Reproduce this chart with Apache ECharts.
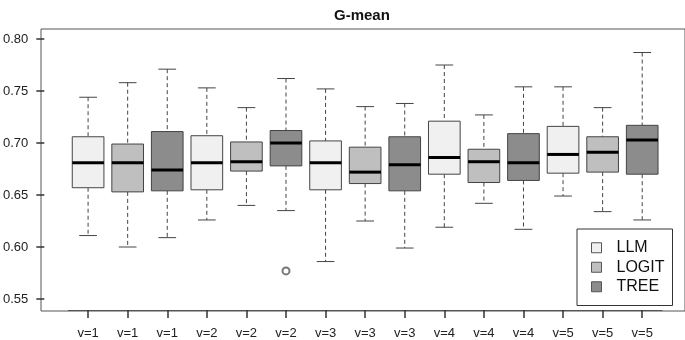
<!DOCTYPE html>
<html>
<head>
<meta charset="utf-8">
<script src="https://cdn.jsdelivr.net/npm/echarts@6/dist/echarts.min.js"></script>
<style>
  html, body { margin: 0; padding: 0; background: #fff; }
  #chart { width: 685px; height: 340px; }
</style>
</head>
<body>
<div id="chart"></div>
<script>
// categorie e gruppi (3 modelli per ogni valore di v)
const categories = ['v=1', 'v=1', 'v=1', 'v=2', 'v=2', 'v=2', 'v=3', 'v=3', 'v=3',
  'v=4', 'v=4', 'v=4', 'v=5', 'v=5', 'v=5'];
const groups = ['LLM', 'LOGIT', 'TREE', 'LLM', 'LOGIT', 'TREE', 'LLM', 'LOGIT', 'TREE',
  'LLM', 'LOGIT', 'TREE', 'LLM', 'LOGIT', 'TREE'];

// statistiche dei box
const whiskerLow  = [0.611, 0.600, 0.609, 0.626, 0.640, 0.635, 0.586, 0.625, 0.599, 0.619, 0.642, 0.617, 0.649, 0.634, 0.626];
const q1          = [0.657, 0.653, 0.654, 0.655, 0.673, 0.678, 0.655, 0.661, 0.654, 0.670, 0.662, 0.664, 0.671, 0.672, 0.670];
const medians     = [0.681, 0.681, 0.674, 0.681, 0.682, 0.700, 0.681, 0.672, 0.679, 0.686, 0.682, 0.681, 0.689, 0.691, 0.703];
const q3          = [0.706, 0.699, 0.711, 0.707, 0.701, 0.712, 0.702, 0.696, 0.706, 0.721, 0.694, 0.709, 0.716, 0.706, 0.717];
const whiskerHigh = [0.744, 0.758, 0.771, 0.753, 0.734, 0.762, 0.752, 0.735, 0.738, 0.775, 0.727, 0.754, 0.754, 0.734, 0.787];

// outlier: [indice box, valore]
const outliers = [[5, 0.577]];

const yTicks = { min: 0.55, max: 0.80, step: 0.05 };

const GROUP_COLORS = { LLM: '#f0f0f0', LOGIT: '#bfbfbf', TREE: '#8c8c8c' };
const FONT = 'Liberation Sans, Arial, sans-serif';

function renderBox(params, api) {
  const x = api.value(0);
  const lo = api.coord([x, api.value(1)]);
  const b1 = api.coord([x, api.value(2)]);
  const md = api.coord([x, api.value(3)]);
  const b3 = api.coord([x, api.value(4)]);
  const hi = api.coord([x, api.value(5)]);
  const bw = api.size([1, 0])[0] * 0.8;
  const cx = lo[0];
  const cap = bw * 0.28;
  const dash = { stroke: '#444', lineWidth: 1, lineDash: [4, 3] };
  const solid = { stroke: '#444', lineWidth: 1 };
  return {
    type: 'group',
    children: [
      { type: 'line', shape: { x1: cx, y1: hi[1], x2: cx, y2: b3[1] }, style: dash },
      { type: 'line', shape: { x1: cx, y1: b1[1], x2: cx, y2: lo[1] }, style: dash },
      { type: 'line', shape: { x1: cx - cap, y1: hi[1], x2: cx + cap, y2: hi[1] }, style: solid },
      { type: 'line', shape: { x1: cx - cap, y1: lo[1], x2: cx + cap, y2: lo[1] }, style: solid },
      { type: 'rect', shape: { x: cx - bw / 2, y: b3[1], width: bw, height: b1[1] - b3[1] },
        style: { fill: api.visual('color'), stroke: '#444', lineWidth: 1 } },
      { type: 'line', shape: { x1: cx - bw / 2, y1: md[1], x2: cx + bw / 2, y2: md[1] },
        style: { stroke: '#000', lineWidth: 3 } }
    ]
  };
}

const boxSeries = ['LLM', 'LOGIT', 'TREE'].map(g => ({
  name: g,
  type: 'custom',
  xAxisIndex: 0,
  yAxisIndex: 0,
  itemStyle: { color: GROUP_COLORS[g], borderColor: '#555', borderWidth: 1 },
  renderItem: renderBox,
  encode: { x: 0, y: [1, 2, 3, 4, 5] },
  data: categories.map((c, i) => i).filter(i => groups[i] === g)
    .map(i => [i, whiskerLow[i], q1[i], medians[i], q3[i], whiskerHigh[i]])
}));

const chart = echarts.init(document.getElementById('chart'));
chart.setOption({
  animation: false,
  backgroundColor: '#fff',
  title: {
    text: 'G-mean', left: 334, top: 8, padding: 0,
    textStyle: { fontFamily: FONT, fontSize: 15, fontWeight: 'bold', color: '#111' }
  },
  legend: {
    orient: 'vertical', left: 577, top: 229,
    padding: [9, 8, 9, 14], itemGap: 0,
    itemWidth: 10, itemHeight: 10, icon: 'rect',
    itemStyle: { borderColor: '#555', borderWidth: 1 },
    backgroundColor: '#fff', borderColor: '#333', borderWidth: 1, borderRadius: 0,
    textStyle: { fontFamily: FONT, fontSize: 16, color: '#111', lineHeight: 19.5, padding: [0, 0, 0, 10] },
    data: ['LLM', 'LOGIT', 'TREE']
  },
  grid: [
    { left: 65, width: 597, top: 39, height: 261 },
    { left: 41, width: 660, top: 29, bottom: 29, show: true, borderColor: '#555', borderWidth: 1 }
  ],
  xAxis: [
    {
      type: 'category', gridIndex: 0, data: categories, offset: 11,
      axisLine: { show: true, lineStyle: { color: '#555', width: 1 } },
      axisTick: { show: true, alignWithLabel: true, length: 8, lineStyle: { color: '#333', width: 1.5 } },
      axisLabel: { interval: 0, margin: 17, fontFamily: FONT, fontSize: 13, color: '#222' }
    },
    { type: 'value', gridIndex: 1, show: false }
  ],
  yAxis: [
    {
      type: 'value', gridIndex: 0, min: yTicks.min, max: yTicks.max, interval: yTicks.step,
      offset: 24,
      axisLine: { show: false },
      axisTick: { show: true, length: 8, lineStyle: { color: '#333', width: 1.5 } },
      splitLine: { show: false },
      axisLabel: { margin: 16, fontFamily: FONT, fontSize: 13, color: '#222',
        formatter: v => v.toFixed(2) }
    },
    { type: 'value', gridIndex: 1, show: false }
  ],
  series: boxSeries.concat([{
    name: 'outlier', type: 'scatter', xAxisIndex: 0, yAxisIndex: 0,
    symbol: 'emptyCircle', symbolSize: 7,
    itemStyle: { color: '#555', borderWidth: 1 },
    data: outliers
  }])
});
</script>
</body>
</html>
